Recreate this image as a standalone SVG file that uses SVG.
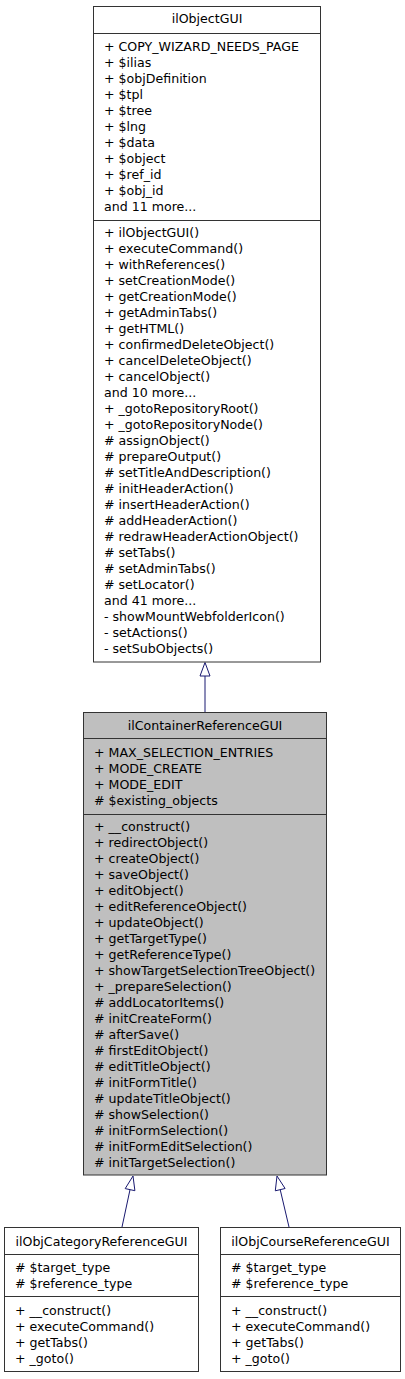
<svg xmlns="http://www.w3.org/2000/svg" width="405" height="1379" viewBox="0 0 405 1379">
<style>
text{font-family:"DejaVu Sans",sans-serif;font-size:12.6px;fill:#000}
.h{text-anchor:middle}
.box{fill:#fff;stroke:#333;stroke-width:1}
.cur{fill:#bfbfbf;stroke:#333;stroke-width:1}
.sep{stroke:#333;stroke-width:1}
.edge{stroke:#191970;stroke-width:1;fill:none}
.head{fill:#fff;stroke:#191970;stroke-width:1}
</style>
<g id="connectors">
<line class="edge" x1="205" y1="676" x2="205" y2="712.5"/>
<polygon class="head" points="205,662.5 210,676 200,676"/>
<line class="edge" x1="130" y1="1189.7" x2="122" y2="1227"/>
<polygon class="head" points="133,1176 134.9,1190.7 125.2,1188.6"/>
<line class="edge" x1="280.2" y1="1189.6" x2="289" y2="1227"/>
<polygon class="head" points="277,1176 285.1,1188.5 275.3,1190.8"/>
</g>
<g id="ilObjectGUI">
<rect class="box" x="93.5" y="6.5" width="227" height="655.5"/>
<line class="sep" x1="93.5" y1="33.5" x2="320.5" y2="33.5"/>
<line class="sep" x1="93.5" y1="220.5" x2="320.5" y2="220.5"/>
<text class="h" x="207" y="23">ilObjectGUI</text>
<text x="104" y="51">+ COPY_WIZARD_NEEDS_PAGE</text>
<text x="104" y="67">+ $ilias</text>
<text x="104" y="83">+ $objDefinition</text>
<text x="104" y="99">+ $tpl</text>
<text x="104" y="115">+ $tree</text>
<text x="104" y="131">+ $lng</text>
<text x="104" y="147">+ $data</text>
<text x="104" y="163">+ $object</text>
<text x="104" y="179">+ $ref_id</text>
<text x="104" y="195">+ $obj_id</text>
<text x="104" y="211">and 11 more...</text>
<text x="104" y="237">+ ilObjectGUI()</text>
<text x="104" y="253">+ executeCommand()</text>
<text x="104" y="269">+ withReferences()</text>
<text x="104" y="285">+ setCreationMode()</text>
<text x="104" y="301">+ getCreationMode()</text>
<text x="104" y="317">+ getAdminTabs()</text>
<text x="104" y="333">+ getHTML()</text>
<text x="104" y="349">+ confirmedDeleteObject()</text>
<text x="104" y="365">+ cancelDeleteObject()</text>
<text x="104" y="381">+ cancelObject()</text>
<text x="104" y="397">and 10 more...</text>
<text x="104" y="413">+ _gotoRepositoryRoot()</text>
<text x="104" y="429">+ _gotoRepositoryNode()</text>
<text x="104" y="445"># assignObject()</text>
<text x="104" y="461"># prepareOutput()</text>
<text x="104" y="477"># setTitleAndDescription()</text>
<text x="104" y="493"># initHeaderAction()</text>
<text x="104" y="509"># insertHeaderAction()</text>
<text x="104" y="525"># addHeaderAction()</text>
<text x="104" y="541"># redrawHeaderActionObject()</text>
<text x="104" y="557"># setTabs()</text>
<text x="104" y="573"># setAdminTabs()</text>
<text x="104" y="589"># setLocator()</text>
<text x="104" y="605">and 41 more...</text>
<text x="104" y="621">- showMountWebfolderIcon()</text>
<text x="104" y="637">- setActions()</text>
<text x="104" y="653">- setSubObjects()</text>
</g>
<g id="ilContainerReferenceGUI">
<rect class="cur" x="83.5" y="712.5" width="243" height="462.5"/>
<line class="sep" x1="83.5" y1="738.5" x2="326.5" y2="738.5"/>
<line class="sep" x1="83.5" y1="814.5" x2="326.5" y2="814.5"/>
<text class="h" x="205" y="730">ilContainerReferenceGUI</text>
<text x="94" y="757">+ MAX_SELECTION_ENTRIES</text>
<text x="94" y="773">+ MODE_CREATE</text>
<text x="94" y="789">+ MODE_EDIT</text>
<text x="94" y="805"># $existing_objects</text>
<text x="94" y="831">+ __construct()</text>
<text x="94" y="847">+ redirectObject()</text>
<text x="94" y="863">+ createObject()</text>
<text x="94" y="879">+ saveObject()</text>
<text x="94" y="895">+ editObject()</text>
<text x="94" y="911">+ editReferenceObject()</text>
<text x="94" y="927">+ updateObject()</text>
<text x="94" y="943">+ getTargetType()</text>
<text x="94" y="959">+ getReferenceType()</text>
<text x="94" y="975">+ showTargetSelectionTreeObject()</text>
<text x="94" y="991">+ _prepareSelection()</text>
<text x="94" y="1007"># addLocatorItems()</text>
<text x="94" y="1023"># initCreateForm()</text>
<text x="94" y="1039"># afterSave()</text>
<text x="94" y="1055"># firstEditObject()</text>
<text x="94" y="1071"># editTitleObject()</text>
<text x="94" y="1087"># initFormTitle()</text>
<text x="94" y="1103"># updateTitleObject()</text>
<text x="94" y="1119"># showSelection()</text>
<text x="94" y="1135"># initFormSelection()</text>
<text x="94" y="1151"># initFormEditSelection()</text>
<text x="94" y="1167"># initTargetSelection()</text>
</g>
<g id="ilObjCategoryReferenceGUI">
<rect class="box" x="4.5" y="1227.5" width="194" height="144"/>
<line class="sep" x1="4.5" y1="1254.5" x2="198.5" y2="1254.5"/>
<line class="sep" x1="4.5" y1="1296.5" x2="198.5" y2="1296.5"/>
<text class="h" x="101.5" y="1246">ilObjCategoryReferenceGUI</text>
<text x="15" y="1272"># $target_type</text>
<text x="15" y="1288"># $reference_type</text>
<text x="15" y="1315">+ __construct()</text>
<text x="15" y="1331">+ executeCommand()</text>
<text x="15" y="1347">+ getTabs()</text>
<text x="15" y="1363">+ _goto()</text>
</g>
<g id="ilObjCourseReferenceGUI">
<rect class="box" x="220.5" y="1227.5" width="180" height="144"/>
<line class="sep" x1="220.5" y1="1254.5" x2="400.5" y2="1254.5"/>
<line class="sep" x1="220.5" y1="1296.5" x2="400.5" y2="1296.5"/>
<text class="h" x="310.5" y="1246">ilObjCourseReferenceGUI</text>
<text x="231" y="1272"># $target_type</text>
<text x="231" y="1288"># $reference_type</text>
<text x="231" y="1315">+ __construct()</text>
<text x="231" y="1331">+ executeCommand()</text>
<text x="231" y="1347">+ getTabs()</text>
<text x="231" y="1363">+ _goto()</text>
</g>
</svg>
